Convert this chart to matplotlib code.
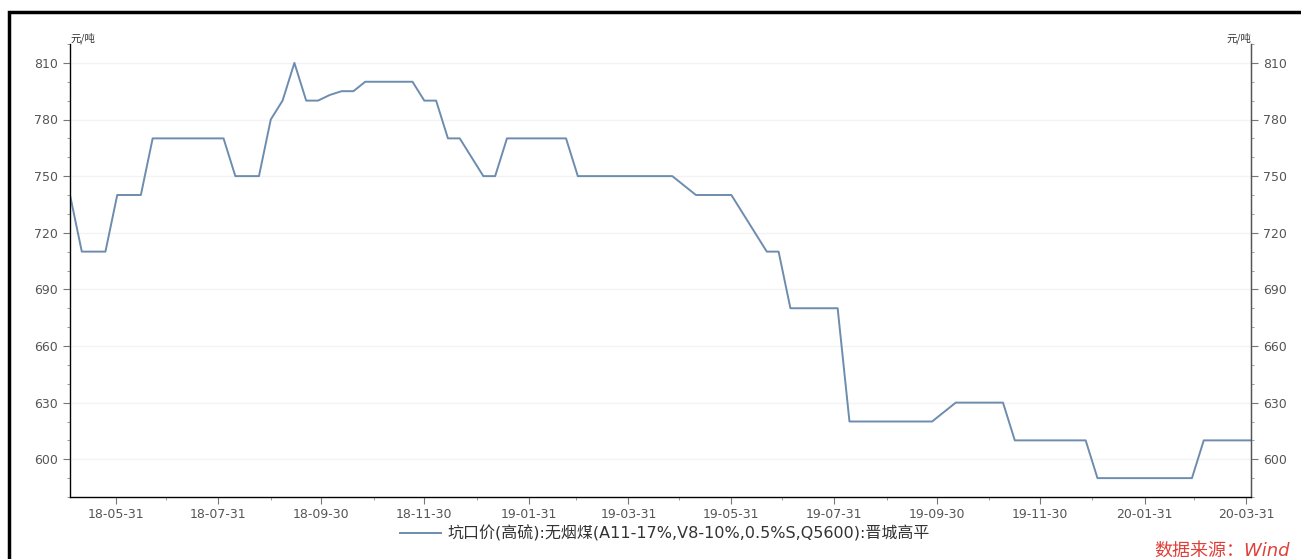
import numpy as np
import pandas as pd
import matplotlib
matplotlib.use("Agg")
import matplotlib.pyplot as plt
import matplotlib.dates as mdates
from matplotlib.ticker import MultipleLocator
from matplotlib.patches import Rectangle

plt.rcParams['font.family'] = ['DejaVu Sans', 'Noto Sans CJK SC']
plt.rcParams['axes.unicode_minus'] = False

# weekly (Friday) data, 2018-05-04 .. 2020-04-03
start_date = "2018-05-04"
n_weeks = 101
price = [
    740, 710, 710, 710, 740, 740, 740, 770, 770, 770,   # wk 0-9
    770, 770, 770, 770, 750, 750, 750, 780, 790, 810,   # wk 10-19
    790, 790, 793, 795, 795, 800, 800, 800, 800, 800,   # wk 20-29
    790, 790, 770, 770, 760, 750, 750, 770, 770, 770,   # wk 30-39
    770, 770, 770, 750, 750, 750, 750, 750, 750, 750,   # wk 40-49
    750, 750, 745, 740, 740, 740, 740, 730, 720, 710,   # wk 50-59
    710, 680, 680, 680, 680, 680, 620, 620, 620, 620,   # wk 60-69
    620, 620, 620, 620, 625, 630, 630, 630, 630, 630,   # wk 70-79
    610, 610, 610, 610, 610, 610, 610, 590, 590, 590,   # wk 80-89
    590, 590, 590, 590, 590, 590, 610, 610, 610, 610,   # wk 90-99
    610,                                                # wk 100
]
dates = pd.date_range(start_date, periods=n_weeks, freq="7D")

series_label = "坑口价(高硫):无烟煤(A11-17%,V8-10%,0.5%S,Q5600):晋城高平"
unit = "元/吨"
source = "数据来源：Wind"

line_color = "#6d8cae"
tick_color = "#555555"

fig = plt.figure(figsize=(13.01, 5.59), dpi=100)
ax = fig.add_axes([70 / 1301, 1 - 497 / 559, 1181 / 1301, 453 / 559])

ax.plot(dates, price, color=line_color, lw=1.4, label=series_label)

ax.set_ylim(580, 820)
ax.set_xlim(dates[0], dates[-1])
ax.yaxis.set_minor_locator(MultipleLocator(10))
ax.set_yticks(np.arange(600, 811, 30))

ax.xaxis.set_major_locator(mdates.MonthLocator(bymonth=[1, 3, 5, 7, 9, 11], bymonthday=-1))
ax.xaxis.set_minor_locator(mdates.MonthLocator(bymonthday=-1))
ax.xaxis.set_major_formatter(mdates.DateFormatter("%y-%m-%d"))

ax.grid(axis="y", which="major", color="#f3f3f3", lw=1.0)
ax.spines["top"].set_visible(False)
for s in ["left", "right", "bottom"]:
    ax.spines[s].set_color("#555555")
    ax.spines[s].set_linewidth(1.0)

ax.tick_params(axis="both", which="major", length=5, width=0.8, colors="#777777",
               labelcolor=tick_color, labelsize=9)
ax.tick_params(axis="both", which="minor", length=2, width=0.7, colors="#999999")
ax.tick_params(axis="x", pad=3)

ax2 = ax.twinx()
ax2.set_ylim(ax.get_ylim())
ax2.yaxis.set_minor_locator(MultipleLocator(10))
ax2.set_yticks(np.arange(600, 811, 30))
ax2.spines["top"].set_visible(False)
ax2.spines["right"].set_color("#555555")
ax2.tick_params(axis="y", which="major", length=5, width=0.8, colors="#777777",
                labelcolor=tick_color, labelsize=9)
ax2.tick_params(axis="y", which="minor", length=2, width=0.7, colors="#999999")

ax.text(0.0, 1.0, unit, transform=ax.transAxes, fontsize=7.5, color="#333333",
        ha="left", va="bottom", family=['Noto Sans CJK SC', 'DejaVu Sans'])
ax.text(1.0, 1.0, unit, transform=ax.transAxes, fontsize=7.5, color="#333333",
        ha="right", va="bottom", family=['Noto Sans CJK SC', 'DejaVu Sans'])

leg = fig.legend(loc="center", bbox_to_anchor=(665 / 1301, 1 - 533 / 559), frameon=False,
                 fontsize=11.5, handlelength=2.6, handletextpad=0.4)
for t in leg.get_texts():
    t.set_color("#333333")

fig.text(1290 / 1301, 1 - 551 / 559, source, color="#e0403a", fontsize=13,
         style="italic", ha="right", va="center")

# outer frame
fig.patches.append(Rectangle((9 / 1301, -0.1), 1.2, 1.1 - 12 / 559,
                             transform=fig.transFigure, fill=False,
                             edgecolor="black", lw=2.5))

fig.savefig("out.png", dpi=100)
